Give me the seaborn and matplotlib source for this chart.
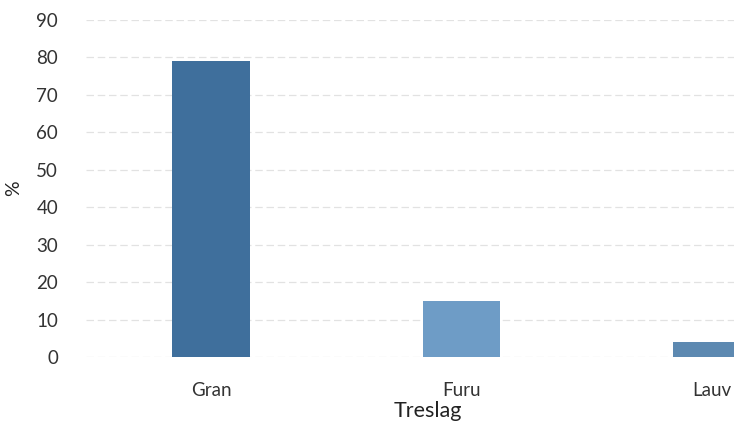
import matplotlib
matplotlib.use("Agg")
import matplotlib.pyplot as plt
import seaborn as sns
import pandas as pd

# data
treslag = ["Gran", "Furu", "Lauv"]
andel = [79, 15, 4]
bar_colors = ["#3f6f9c", "#6e9cc6", "#5d89b1"]

y_ticks = list(range(0, 91, 10))

sns.set_theme(style="white")
plt.rcParams["font.family"] = ["Lato", "DejaVu Sans"]

df = pd.DataFrame({"Treslag": treslag, "%": andel})

fig = plt.figure(figsize=(7.34, 4.25), dpi=100)
# axes run past the right edge, as in the cropped scan
ax = fig.add_axes([0.117, 0.16, 1.023, 0.793])

sns.barplot(data=df, x="Treslag", y="%", hue="Treslag", palette=bar_colors,
            saturation=1, legend=False, width=0.31, linewidth=0,
            ax=ax, zorder=3)

ax.set_ylim(0, 90)
ax.set_xlim(-0.5, 2.5)
ax.set_yticks(y_ticks)
ax.grid(axis="y", color="#e2e2e2", lw=0.9, ls=(0, (6, 3)), zorder=0)
for s in ax.spines.values():
    s.set_visible(False)
ax.tick_params(axis="both", length=0, labelsize=13.5, colors="#333333")
ax.tick_params(axis="y", pad=20)
ax.tick_params(axis="x", pad=18)
ax.set_xlabel("Treslag", fontsize=15.5, color="#222222", labelpad=0)
ax.xaxis.set_label_coords(0.455, -0.13)
ax.set_ylabel("%", fontsize=14, color="#222222")
ax.yaxis.set_label_coords(-0.085, 0.5)

fig.savefig("out.png", dpi=100)
